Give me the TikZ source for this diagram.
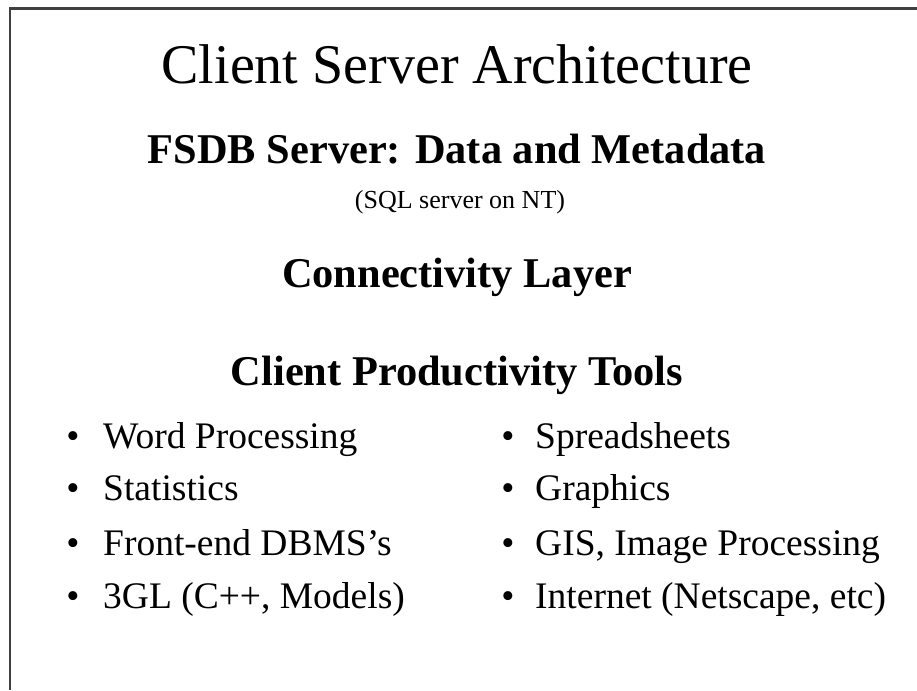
\documentclass[tikz,border=0pt]{standalone}
\usepackage{fontspec}
\setmainfont{Liberation Serif}
\definecolor{framegray}{RGB}{64,64,64}
\tikzset{
  title/.style={font=\fontsize{56}{62}\selectfont,anchor=base,inner sep=0pt},
  head/.style={font=\fontsize{42.4}{46}\selectfont\bfseries,anchor=base,inner sep=0pt},
  sub/.style={font=\fontsize{26}{32}\selectfont,anchor=base,inner sep=0pt},
  item/.style={font=\fontsize{37.5}{42}\selectfont,anchor=base west,inner sep=0pt},
  dot/.style={font=\fontsize{37.5}{42}\selectfont,anchor=base,inner sep=0pt}
}
\begin{document}
\begin{tikzpicture}[x=1pt,y=-1pt]

\useasboundingbox (0,0) rectangle (917,690);

\draw [framegray,line width=2.5pt] (10,690) -- (10,8.5) -- (917,8.5);

\node [title] at (457,84) (title) {Client Server Architecture};

\node [head] at (457,163) (server) {FSDB Server: Data and Metadata};
\node [sub]  at (460,208) (sql) {(SQL server on NT)};
\node [head] at (457,287) (conn) {Connectivity Layer};
\node [head] at (457,385) (tools) {Client Productivity Tools};

\node [dot]  at (73,448) (b1) {\textbullet};
\node [item] at (103,448) (word) {Word Processing};
\node [dot]  at (73,500) (b2) {\textbullet};
\node [item] at (103,500) (stat) {Statistics};
\node [dot]  at (73,555) (b3) {\textbullet};
\node [item] at (103,555) (dbms) {Front-end DBMS's};
\node [dot]  at (73,608) (b4) {\textbullet};
\node [item] at (103,608) (gl) {3GL (C++, Models)};

\node [dot]  at (508,448) (b5) {\textbullet};
\node [item] at (535,448) (spread) {Spreadsheets};
\node [dot]  at (508,500) (b6) {\textbullet};
\node [item] at (535,500) (graph) {Graphics};
\node [dot]  at (508,555) (b7) {\textbullet};
\node [item] at (535,555) (gis) {GIS, Image Processing};
\node [dot]  at (508,608) (b8) {\textbullet};
\node [item] at (535,608) (net) {Internet (Netscape, etc)};

\end{tikzpicture}
\end{document}
